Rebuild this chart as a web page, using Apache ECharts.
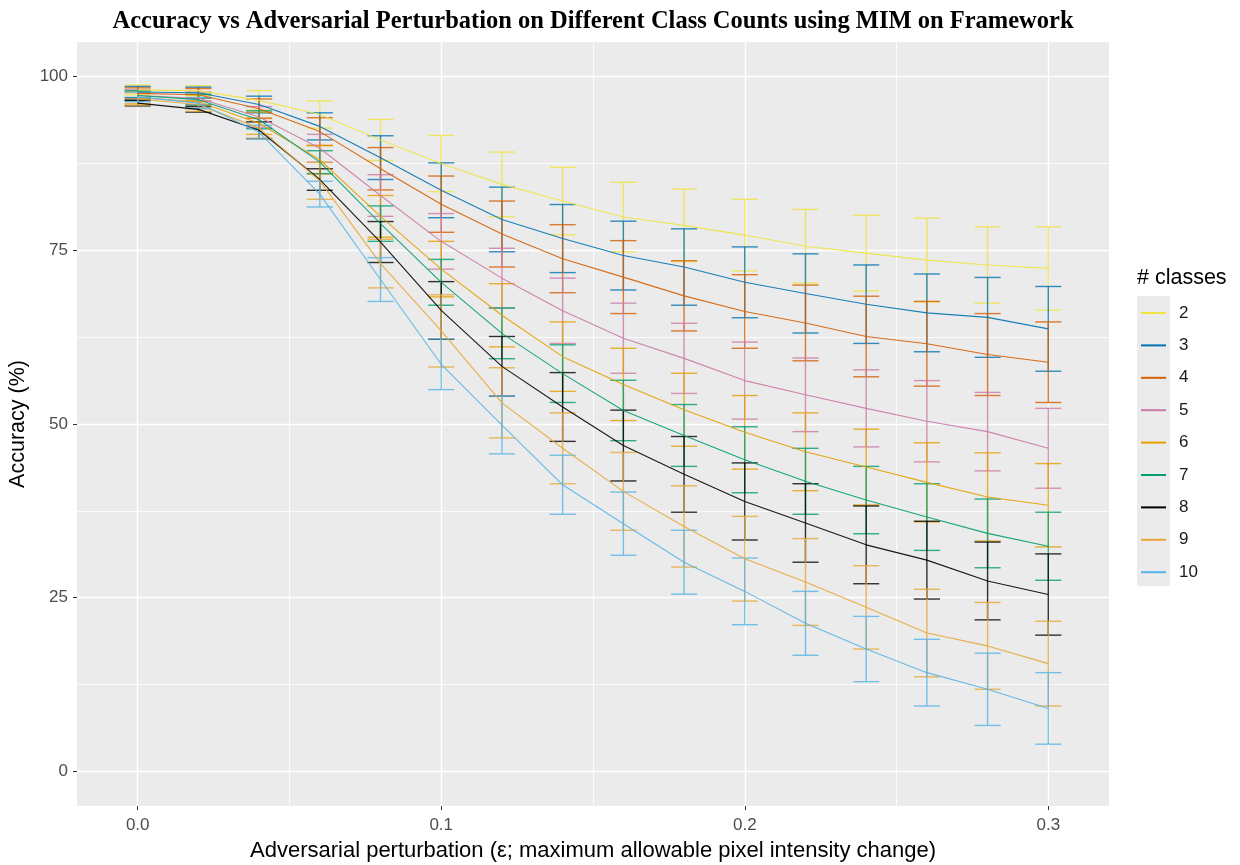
<!DOCTYPE html>
<html>
<head>
<meta charset="utf-8">
<script src="https://cdn.jsdelivr.net/npm/echarts@6/dist/echarts.min.js"></script>
<style>
html,body{margin:0;padding:0;background:#fff;}
#chart{width:1240px;height:865px;}
</style>
</head>
<body>
<div id="chart"></div>
<script>
// ---- data ----
const eps = [0, 0.02, 0.04, 0.06, 0.08, 0.10, 0.12, 0.14, 0.16, 0.18, 0.20, 0.22, 0.24, 0.26, 0.28, 0.30];
const classes = ['2', '3', '4', '5', '6', '7', '8', '9', '10'];
const xTicks = [0, 0.1, 0.2, 0.3];
const yTicks = [0, 25, 50, 75, 100];

const acc_c2  = [98.1, 98.0, 96.6, 94.55, 90.9, 87.5, 84.5, 82.1, 79.8, 78.6, 77.2, 75.6, 74.6, 73.6, 72.9, 72.4];
const err_c2  = [0.7, 0.7, 1.4, 1.95, 2.95, 4.05, 4.65, 4.85, 5.0, 5.2, 5.15, 5.3, 5.45, 6.05, 5.5, 6.0];
const acc_c3  = [97.8, 97.7, 96.0, 92.85, 88.35, 83.65, 79.45, 76.7, 74.25, 72.6, 70.4, 68.8, 67.25, 66.0, 65.35, 63.7];
const err_c3  = [0.8, 0.8, 1.2, 1.95, 3.15, 3.95, 4.65, 4.9, 4.95, 5.5, 5.1, 5.7, 5.65, 5.6, 5.75, 6.1];
const acc_c4  = [97.6, 97.4, 95.4, 92.1, 86.75, 81.65, 77.35, 73.8, 71.15, 68.45, 66.2, 64.55, 62.6, 61.55, 60.0, 58.9];
const err_c4  = [0.8, 0.9, 1.4, 2.0, 3.05, 4.05, 4.75, 4.9, 5.25, 5.05, 5.3, 5.45, 5.8, 6.1, 5.9, 5.8];
const acc_c5  = [97.3, 96.9, 94.2, 89.7, 82.9, 76.3, 71.0, 66.3, 62.35, 59.45, 56.25, 54.2, 52.25, 50.4, 48.9, 46.5];
const err_c5  = [0.8, 0.9, 1.5, 2.0, 3.0, 4.0, 4.3, 4.7, 5.05, 5.05, 5.55, 5.3, 5.55, 5.85, 5.65, 5.75];
const acc_c6  = [97.0, 96.4, 93.3, 88.05, 79.9, 72.3, 65.65, 59.7, 55.7, 52.05, 48.8, 46.0, 43.8, 41.6, 39.5, 38.3];
const err_c6  = [0.9, 1.0, 1.6, 2.05, 3.0, 4.0, 4.55, 5.0, 5.2, 5.25, 5.3, 5.6, 5.45, 5.7, 6.35, 6.0];
const acc_c7  = [97.3, 96.7, 93.8, 87.7, 78.85, 70.4, 63.05, 57.25, 51.95, 48.35, 44.85, 41.75, 39.05, 36.6, 34.25, 32.4];
const err_c7  = [0.7, 0.8, 1.3, 1.65, 2.55, 3.3, 3.65, 4.15, 4.35, 4.45, 4.75, 4.75, 4.85, 4.8, 4.95, 4.9];
const acc_c8  = [96.2, 95.3, 92.3, 85.2, 76.2, 66.35, 58.3, 52.45, 46.9, 42.75, 38.85, 35.75, 32.6, 30.4, 27.4, 25.45];
const err_c8  = [0.4, 0.4, 1.2, 1.55, 2.95, 4.15, 4.3, 4.95, 5.1, 5.45, 5.55, 5.65, 5.6, 5.6, 5.6, 5.85];
const acc_c9  = [96.8, 96.0, 92.6, 85.0, 73.1, 63.4, 53.05, 46.5, 40.3, 35.25, 30.6, 27.25, 23.6, 19.9, 18.05, 15.5];
const err_c9  = [0.9, 1.0, 1.5, 2.65, 3.5, 5.2, 5.05, 5.1, 5.6, 5.85, 6.1, 6.25, 6.0, 6.3, 6.25, 6.1];
const acc_c10 = [97.1, 96.2, 92.0, 83.1, 70.8, 58.6, 49.85, 41.25, 35.65, 30.1, 25.9, 21.3, 17.6, 14.2, 11.8, 9.05];
const err_c10 = [0.7, 0.8, 1.0, 1.85, 3.15, 3.65, 4.15, 4.25, 4.55, 4.6, 4.8, 4.6, 4.7, 4.8, 5.2, 5.15];

const accs = [acc_c2, acc_c3, acc_c4, acc_c5, acc_c6, acc_c7, acc_c8, acc_c9, acc_c10];
const errs = [err_c2, err_c3, err_c4, err_c5, err_c6, err_c7, err_c8, err_c9, err_c10];

// ---- style ----
const colors = ['#F0E442', '#0072B2', '#D55E00', '#CC79A7', '#E69F00', '#009E73', '#000000', '#E8A736', '#56B4E9'];
const CAP = 0.0043;
const SANS = 'Liberation Sans, Arial, sans-serif';

function renderErr(params, api) {
  const x = api.value(0), lo = api.value(1), hi = api.value(2);
  const pLo = api.coord([x, lo]);
  const pHi = api.coord([x, hi]);
  const pA = api.coord([x - CAP, hi]);
  const pB = api.coord([x + CAP, hi]);
  const half = (pB[0] - pA[0]) / 2;
  const style = { stroke: api.visual('color'), lineWidth: 1.4, opacity: 0.8 };
  return {
    type: 'group',
    children: [
      { type: 'line', shape: { x1: pLo[0], y1: pLo[1], x2: pHi[0], y2: pHi[1] }, style: style },
      { type: 'line', shape: { x1: pHi[0] - half, y1: pHi[1], x2: pHi[0] + half, y2: pHi[1] }, style: style },
      { type: 'line', shape: { x1: pLo[0] - half, y1: pLo[1], x2: pLo[0] + half, y2: pLo[1] }, style: style }
    ]
  };
}

const series = [];
classes.forEach((c, k) => {
  series.push({
    name: c, type: 'line', xAxisIndex: 0, yAxisIndex: 0,
    data: eps.map((x, i) => [x, accs[k][i]]),
    showSymbol: false, symbol: 'none', smooth: false,
    itemStyle: { color: colors[k] },
    lineStyle: { color: colors[k], width: 1.1, opacity: 0.9 },
    z: 3
  });
});
classes.forEach((c, k) => {
  series.push({
    name: c, type: 'custom', xAxisIndex: 0, yAxisIndex: 0,
    renderItem: renderErr,
    data: eps.map((x, i) => [x, accs[k][i] - errs[k][i], accs[k][i] + errs[k][i]]),
    encode: { x: 0, y: [1, 2] },
    itemStyle: { color: colors[k] },
    z: 3
  });
});

const chart = echarts.init(document.getElementById('chart'), null, { renderer: 'canvas' });
chart.setOption({
  backgroundColor: '#ffffff',
  animation: false,
  title: [
    {
      text: 'Accuracy vs Adversarial Perturbation on Different Class Counts using MIM on Framework',
      left: 593, top: 9, textAlign: 'center', padding: 0,
      textStyle: { fontFamily: 'Liberation Serif, Times New Roman, serif', fontWeight: 'bold', fontSize: 24.5, color: '#000' }
    },
    {
      text: '# classes', left: 1137, top: 267, padding: 0,
      textStyle: { fontFamily: SANS, fontWeight: 'normal', fontSize: 21.5, color: '#000' }
    }
  ],
  graphic: [
    { type: 'rect', left: 1137, top: 296, shape: { width: 33, height: 290 }, style: { fill: '#EBEBEB' }, z: 0 }
  ],
  legend: {
    orient: 'vertical', left: 1141, top: 303, padding: 0,
    itemWidth: 25, itemHeight: 2, itemGap: 12.4, icon: 'rect',
    data: classes,
    textStyle: { fontFamily: SANS, fontSize: 17, color: '#1a1a1a', lineHeight: 20, padding: [0, 0, 0, 8] },
    z: 5
  },
  grid: {
    left: 77, right: 131, top: 42, bottom: 59,
    outerBoundsMode: 'none', containLabel: false,
    show: true, backgroundColor: '#EBEBEB', borderWidth: 0
  },
  xAxis: [
    {
      type: 'value', min: -0.02, max: 0.32,
      name: 'Adversarial perturbation (\u03b5; maximum allowable pixel intensity change)',
      nameLocation: 'middle', nameGap: 34,
      nameTextStyle: { fontFamily: SANS, fontSize: 22, color: '#000' },
      axisLine: { show: false, onZero: false },
      axisTick: { show: true, length: 4, lineStyle: { color: '#333333', width: 1 }, customValues: xTicks },
      axisLabel: { customValues: xTicks, margin: 11, fontFamily: SANS, fontSize: 17, color: '#4D4D4D', formatter: v => v.toFixed(1) },
      splitLine: { show: true, lineStyle: { color: '#ffffff', width: 1.4 } }
    },
    {
      type: 'value', min: -0.02, max: 0.32, position: 'bottom',
      axisLine: { show: false, onZero: false },
      axisTick: { show: false, customValues: [0.05, 0.15, 0.25] },
      axisLabel: { show: false, customValues: [0.05, 0.15, 0.25] },
      splitLine: { show: true, lineStyle: { color: '#ffffff', width: 0.8 } }
    }
  ],
  yAxis: [
    {
      type: 'value', min: -5, max: 105,
      name: 'Accuracy (%)', nameLocation: 'middle', nameGap: 42, nameRotate: 90,
      nameTextStyle: { fontFamily: SANS, fontSize: 21.5, color: '#000' },
      axisLine: { show: false, onZero: false },
      axisTick: { show: true, length: 4, lineStyle: { color: '#333333', width: 1 }, customValues: yTicks },
      axisLabel: { customValues: yTicks, margin: 9, fontFamily: SANS, fontSize: 17, color: '#4D4D4D' },
      splitLine: { show: true, lineStyle: { color: '#ffffff', width: 1.4 } }
    },
    {
      type: 'value', min: -5, max: 105, position: 'left',
      axisLine: { show: false, onZero: false },
      axisTick: { show: false, customValues: [12.5, 37.5, 62.5, 87.5] },
      axisLabel: { show: false, customValues: [12.5, 37.5, 62.5, 87.5] },
      splitLine: { show: true, lineStyle: { color: '#ffffff', width: 0.8 } }
    }
  ],
  series: series
});
</script>
</body>
</html>
